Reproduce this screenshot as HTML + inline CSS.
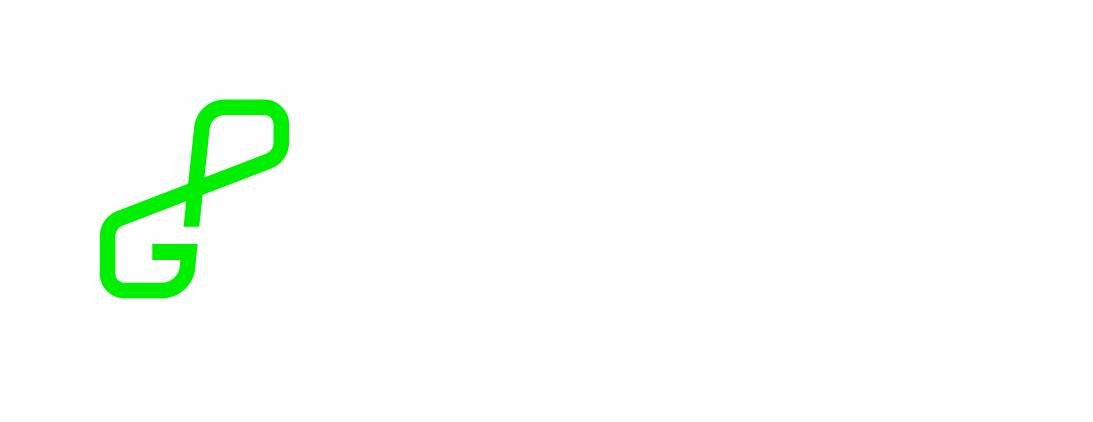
<!DOCTYPE html>
<html lang="en">
<head>
<meta charset="utf-8">
<title>Logo</title>
<style>
  html, body { margin: 0; padding: 0; width: 1093px; height: 422px; overflow: hidden; background: #fefefe; }
  svg { display: block; }
</style>
</head>
<body>
<svg width="1093" height="422" viewBox="0 0 1093 422" xmlns="http://www.w3.org/2000/svg">
  <defs>
    <clipPath id="gap-clip"><path clip-rule="evenodd" d="M0 0 H1093 V422 H0 Z M170 226.7 H210 V244 H170 Z"/></clipPath>
  </defs>
  <g clip-path="url(#gap-clip)">
    <path fill="none" stroke="#00ee00" stroke-width="15.6"
      d="M190.5 235 L201.9 127.9 A23 23 0 0 1 224.8 107.3 H264.3 A17 17 0 0 1 281.3 124.3 V142.5 A20 20 0 0 1 268.5 161.2 L119.8 218.4 A19 19 0 0 0 107.6 236.1 V273.6 A17 17 0 0 0 124.6 290.6 H161.7 A26 26 0 0 0 187.5 267.4 L190.5 235"/>
    <path fill="#00ee00"
      d="M152.3 244 H197.7 L195.6 260 H152.3 Z"/>
  </g>
</svg>
</body>
</html>
